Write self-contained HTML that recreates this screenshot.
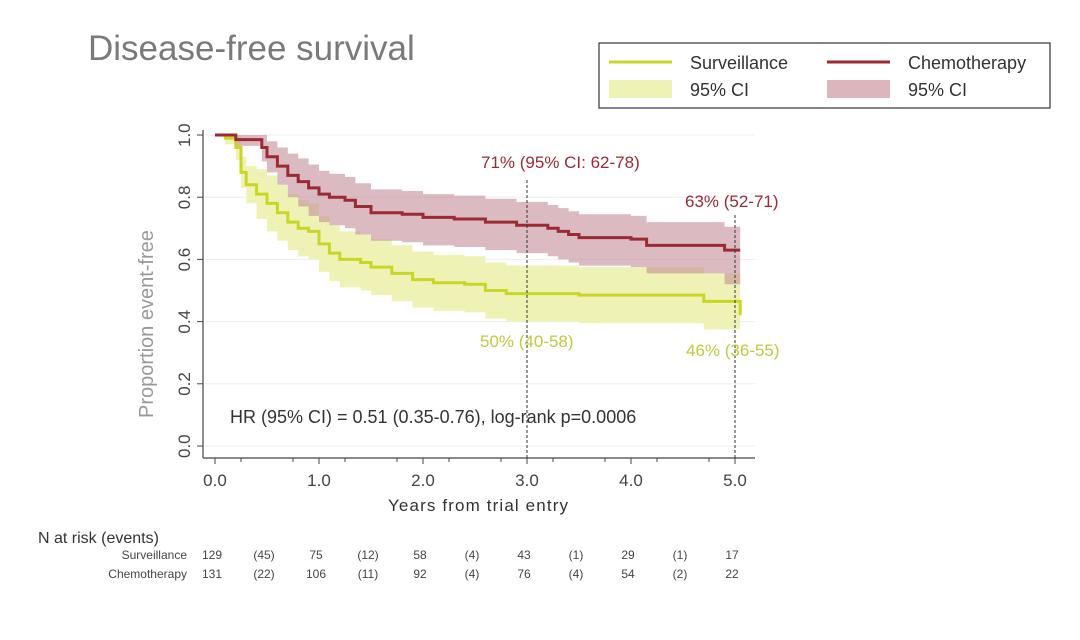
<!DOCTYPE html>
<html><head><meta charset="utf-8"><style>
body{margin:0;background:#fff;width:1080px;height:635px;overflow:hidden;font-family:"Liberation Sans",sans-serif}
</style></head><body>
<svg id="s" width="1080" height="635" xmlns="http://www.w3.org/2000/svg" font-family="Liberation Sans, sans-serif">
<text x="88" y="60" font-size="35" fill="#7a7a7a">Disease-free survival</text>
<rect x="599" y="43" width="451" height="65" fill="#fff" stroke="#333" stroke-width="1.2"/>
<line x1="609" y1="62" x2="672" y2="62" stroke="#c9d627" stroke-width="3"/>
<text x="690" y="69" font-size="18" fill="#333">Surveillance</text>
<rect x="609" y="80" width="63" height="18" fill="#eef3b5"/>
<text x="690" y="96" font-size="18" fill="#333">95% CI</text>
<line x1="827" y1="62" x2="890" y2="62" stroke="#9b2a35" stroke-width="3"/>
<text x="908" y="69" font-size="18" fill="#333">Chemotherapy</text>
<rect x="827" y="80" width="63" height="18" fill="#dcb5bd"/>
<text x="908" y="96" font-size="18" fill="#333">95% CI</text>
<g id="grid" stroke="#eee" stroke-width="1"></g>
<g id="plot"></g>
<line x1="203" y1="458" x2="755" y2="458" stroke="#444" stroke-width="1.2"/>
<line x1="203" y1="130" x2="203" y2="458" stroke="#444" stroke-width="1.2"/>
<g id="ticks" font-size="17" fill="#444"></g>
<line x1="527" y1="180" x2="527" y2="458" stroke="#333" stroke-dasharray="3,2"/>
<line x1="735" y1="215" x2="735" y2="458" stroke="#333" stroke-dasharray="3,2"/>
<text x="481" y="168" font-size="17" fill="#9b2a35">71% (95% CI: 62-78)</text>
<text x="685" y="207" font-size="17" fill="#9b2a35">63% (52-71)</text>
<text x="480" y="347" font-size="17" fill="#c0c940">50% (40-58)</text>
<text x="686" y="356" font-size="17" fill="#c0c940">46% (36-55)</text>
<text x="230" y="423" font-size="18" fill="#333">HR (95% CI) = 0.51 (0.35-0.76), log-rank p=0.0006</text>
<text x="388" y="511" font-size="17" fill="#333" textLength="180">Years from trial entry</text>
<text transform="translate(153,418) rotate(-90)" font-size="20" fill="#999">Proportion event-free</text>
<text x="38" y="543" font-size="16" fill="#333">N at risk (events)</text>
<g font-size="12" fill="#444" id="risk"></g>
</svg>
<script>
var X=t=>215+t*104, Y=v=>446-v*311;
var ch=[[0,1],[0.2,0.985],[0.45,0.96],[0.5,0.93],[0.6,0.9],[0.7,0.87],[0.8,0.85],[0.9,0.83],[1.0,0.81],[1.1,0.80],[1.25,0.79],[1.35,0.77],[1.5,0.75],[1.8,0.745],[2.0,0.735],[2.3,0.73],[2.6,0.72],[2.9,0.71],[3.2,0.70],[3.3,0.69],[3.4,0.68],[3.5,0.67],[4.0,0.665],[4.15,0.645],[4.9,0.63],[5.05,0.63]];
var sv=[[0,1],[0.1,0.99],[0.2,0.96],[0.25,0.88],[0.3,0.84],[0.4,0.81],[0.5,0.78],[0.6,0.75],[0.7,0.72],[0.8,0.70],[0.9,0.69],[1.0,0.65],[1.1,0.62],[1.2,0.60],[1.4,0.59],[1.5,0.575],[1.7,0.555],[1.9,0.535],[2.1,0.525],[2.4,0.52],[2.6,0.50],[2.8,0.49],[3.0,0.49],[3.5,0.485],[4.7,0.465],[5.05,0.42]];
function step(d,off){var p='';d.forEach((q,i)=>{var v=Math.min(1,q[1]+off(q[0]));if(i==0)p+='M'+X(q[0])+','+Y(v);else p+='H'+X(q[0])+'V'+Y(v);});return p;}
function band(d,up,lo,col){var p=step(d,up);var pts=[];d.forEach((q,i)=>{var v=Math.max(0,q[1]-lo(q[0]));if(i>0)pts.push([X(q[0]),Y(d[i-1][1]-lo(d[i-1][0]))]);pts.push([X(q[0]),Y(v)]);});pts.reverse().forEach(pt=>p+='L'+pt[0]+','+pt[1]);return '<path d="'+p+'Z" fill="'+col+'"/>';}
var g=document.getElementById('plot'),h='';
h+=band(sv,t=>Math.min(0.09,t*0.2),t=>Math.min(0.09,t*0.2)+(t>4.7?0.02:0),'#eef3b5');
h+=band(ch,t=>Math.min(0.075,t*0.1),t=>Math.min(0.09,t*0.1)+(t>4.8?0.02:0),'rgba(196,140,153,0.6)');
h+='<path d="'+step(sv,t=>0)+'" fill="none" stroke="#c9d627" stroke-width="3"/>';
h+='<path d="'+step(ch,t=>0)+'" fill="none" stroke="#9b2a35" stroke-width="3"/>';
g.innerHTML=h;
var gr='',tk='';
for(var i=0;i<=5;i++){var v=i*0.2,y=Y(v);gr+='<line x1="205" y1="'+y+'" x2="755" y2="'+y+'"/>';
tk+='<line x1="197" y1="'+y+'" x2="203" y2="'+y+'" stroke="#444"/><text transform="translate(190,'+(y+12)+') rotate(-90)">'+v.toFixed(1)+'</text>';}
for(var i=0;i<=5;i++){var x=X(i);tk+='<line x1="'+x+'" y1="458" x2="'+x+'" y2="464" stroke="#444"/><text x="'+x+'" y="486" text-anchor="middle">'+i.toFixed(1)+'</text>';}
for(var i=0;i<10;i++){var x=X(i/2+0.25);tk+='<line x1="'+x+'" y1="458" x2="'+x+'" y2="462" stroke="#444"/>';}
document.getElementById('grid').innerHTML=gr;document.getElementById('ticks').innerHTML=tk;
var r1=['129','(45)','75','(12)','58','(4)','43','(1)','29','(1)','17'],r2=['131','(22)','106','(11)','92','(4)','76','(4)','54','(2)','22'];
var rk='<text x="187" y="559" text-anchor="end">Surveillance</text><text x="187" y="578" text-anchor="end">Chemotherapy</text>';
for(var i=0;i<11;i++){var x=X(i/2)-3;rk+='<text x="'+x+'" y="559" text-anchor="middle">'+r1[i]+'</text><text x="'+x+'" y="578" text-anchor="middle">'+r2[i]+'</text>';}
document.getElementById('risk').innerHTML=rk;
</script>
</body></html>
